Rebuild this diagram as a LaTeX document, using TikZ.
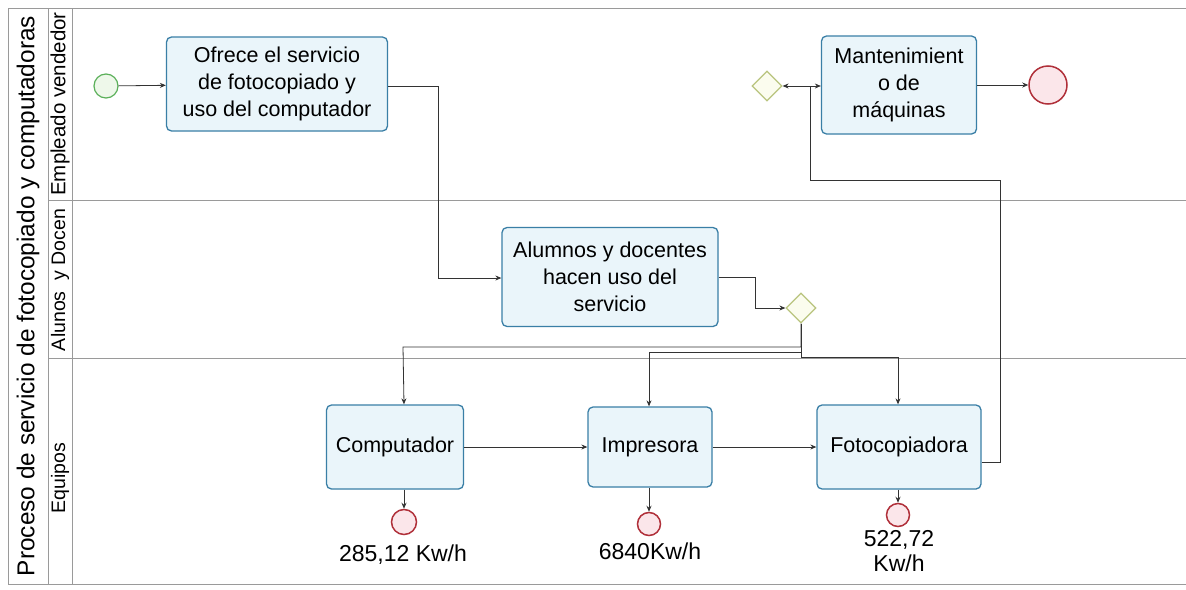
\documentclass[tikz,border=0pt]{standalone}
\usepackage{fontspec}
\setmainfont{Liberation Sans}
\usetikzlibrary{shapes.geometric,arrows.meta,shadows}
\definecolor{taskfill}{HTML}{EAF5FA}
\definecolor{taskdraw}{HTML}{3A7FA6}
\definecolor{startfill}{HTML}{EEF8EA}
\definecolor{startdraw}{HTML}{5BB05A}
\definecolor{endfill}{HTML}{FBE6EA}
\definecolor{enddraw}{HTML}{B0303A}
\definecolor{gwfill}{HTML}{FBFCEE}
\definecolor{gwdraw}{HTML}{B9C47E}
\definecolor{lanegray}{HTML}{9A9A9A}
\tikzset{
  task/.style={draw=taskdraw, fill=taskfill, line width=1.3pt, rounded corners=5pt, align=center, font=\fontsize{21.5}{27}\selectfont, inner sep=2pt},
  startev/.style={circle, draw=startdraw, fill=startfill, line width=1.2pt, minimum size=24pt, inner sep=0pt},
  endev/.style={circle, draw=enddraw, fill=endfill, line width=1.5pt, inner sep=0pt},
  gw/.style={diamond, draw=gwdraw, fill=gwfill, line width=1.2pt, minimum size=30pt, inner sep=0pt},
  flow/.style={draw=black!80, line width=0.8pt, -{Stealth[length=6pt,width=5pt]}},
  lane/.style={draw=lanegray, line width=0.8pt},
  lanelabel/.style={rotate=90, font=\fontsize{19.5}{21}\selectfont, inner sep=0pt},
  vallabel/.style={align=center, font=\fontsize{23}{25}\selectfont}
}
\begin{document}
\begin{tikzpicture}[x=1pt,y=-1pt]
\useasboundingbox (0,0) rectangle (1186,589);
\fill[white] (0,0) rectangle (1186,589);
% pool and lanes
\draw[lane] (1192,8) -- (8,8) -- (8,584) -- (1192,584);
\draw[lane] (48,8) -- (48,584);
\draw[lane] (72,8) -- (72,584);
\draw[lane] (48,200) -- (1192,200);
\draw[lane] (48,358) -- (1192,358);
\node[rotate=90, font=\fontsize{24.4}{26}\selectfont] (pool) at (28,296) {Proceso de servicio de fotocopiado y computadoras};
\node[lanelabel, font=\fontsize{20.5}{22}\selectfont] (l1) at (60,104) {Empleado vendedor};
\node[lanelabel] (l2) at (60,280) {Alunos\ \ y Docen};
\node[lanelabel] (l3) at (60,478) {Equipos};
% nodes
\node[startev] (start) at (106,86) {};
\node[task, minimum width=221pt, minimum height=94pt] (ofrece) at (277,84) {Ofrece el servicio\\de fotocopiado y\\uso del computador};
\node[gw] (gw1) at (767,86) {};
\node[task, minimum width=155pt, minimum height=98pt] (mant) at (899,85) {Mantenimient\\o de\\máquinas};
\node[endev, minimum size=38pt] (end1) at (1048,85) {};
\node[task, minimum width=216pt, minimum height=99pt] (alum) at (610,277) {Alumnos y docentes\\hacen uso del\\servicio};
\node[gw] (gw2) at (801,308) {};
\node[task, minimum width=137pt, minimum height=84pt] (comp) at (395,447) {Computador};
\node[task, minimum width=124pt, minimum height=80pt] (impr) at (650,447) {Impresora};
\node[task, minimum width=164pt, minimum height=84pt] (foto) at (899,447) {Fotocopiadora};
\node[endev, minimum size=25pt] (e1) at (404,522) {};
\node[endev, minimum size=23pt] (e2) at (649,524) {};
\node[endev, minimum size=23pt] (e3) at (898,515) {};
\node[vallabel] (v1) at (403,555) {285,12 Kw/h};
\node[vallabel] (v2) at (650,551) {6840Kw/h};
\node[vallabel] (v3) at (899,551) {522,72\\Kw/h};
% connectors
\draw[flow] (start) -- (ofrece);
\draw[flow] (ofrece.east |- 0,86) -- (438,86) -- (438,278) -- (alum.west |- 0,278);
\draw[flow] (alum.east) -- (755,277) -- (755,308) -- (gw2.west);
\draw[flow] (gw2.south) -- (801,347) -- (403,347) -- (comp.north -| e1);
\draw[flow] (gw2.south) -- (801,352) -- (649,352) -- (impr.north -| e2);
\draw[flow] (gw2.south) -- (801,357) -- (898,357) -- (foto.north -| e3);
\draw[flow] (comp) -- (impr);
\draw[flow] (impr) -- (foto);
\coordinate (split) at (810,86);
\draw[flow] (foto.east |- 0,462) -- (1000,462) -- (1000,180) -- (810,180) -- (split) -- (mant.west |- split);
\draw[flow] (split) -- (gw1.east);
\draw[flow] (mant.east) -- (end1);
\draw[flow] (comp.south -| e1) -- (e1);
\draw[flow] (impr.south -| e2) -- (e2);
\draw[flow] (foto.south -| e3) -- (e3);
\end{tikzpicture}
\end{document}
